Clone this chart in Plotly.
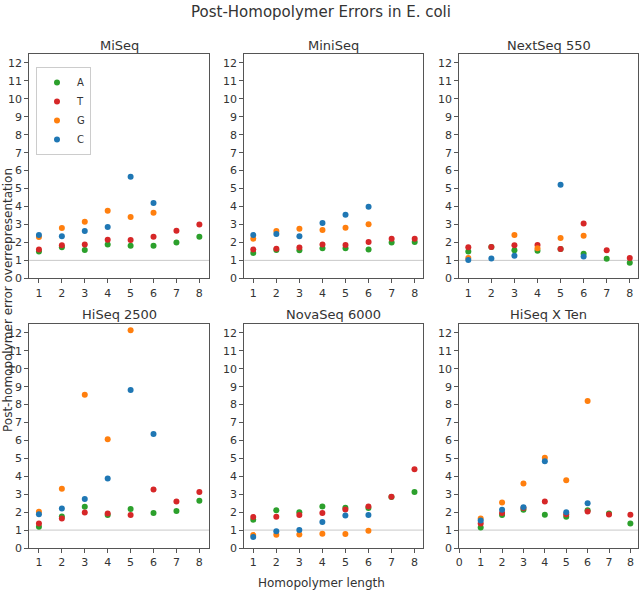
import plotly.graph_objects as go
from plotly.subplots import make_subplots

lengths = [1, 2, 3, 4, 5, 6, 7, 8]
platforms = ["MiSeq", "MiniSeq", "NextSeq 550", "HiSeq 2500", "NovaSeq 6000", "HiSeq X Ten"]
bases = ["A", "T", "G", "C"]
colors = {"A": "#2ca02c", "T": "#d62728", "G": "#ff7f0e", "C": "#1f77b4"}

# values per platform, per base (None = no point)
miseq_A = [1.50, 1.73, 1.58, 1.89, 1.82, 1.82, 2.00, 2.32]
miseq_T = [1.61, 1.84, 1.89, 2.15, 2.13, 2.32, 2.65, 3.00]
miseq_G = [2.30, 2.80, 3.15, 3.77, 3.41, 3.65, None, None]
miseq_C = [2.41, 2.34, 2.63, 2.86, 5.66, 4.19, None, None]

miniseq_A = [1.41, 1.58, 1.56, 1.67, 1.67, 1.61, 1.99, 2.02]
miniseq_T = [1.61, 1.65, 1.71, 1.89, 1.86, 2.02, 2.21, 2.21]
miniseq_G = [2.21, 2.63, 2.76, 2.69, 2.82, 3.01, None, None]
miniseq_C = [2.41, 2.47, 2.34, 3.08, 3.54, 3.99, None, None]

nextseq_A = [1.50, 1.74, 1.56, 1.54, 1.63, 1.37, 1.09, 0.87]
nextseq_T = [1.73, 1.74, 1.84, 1.86, 1.63, 3.06, 1.56, 1.13]
nextseq_G = [1.13, None, 2.41, 1.67, 2.24, 2.37, None, None]
nextseq_C = [1.02, 1.11, 1.26, None, 5.21, 1.21, None, None]

hiseq2500_A = [1.19, 1.76, 2.30, 1.84, 2.17, 1.95, 2.06, 2.63]
hiseq2500_T = [1.37, 1.65, 1.98, 1.93, 1.84, 3.26, 2.60, 3.12]
hiseq2500_G = [2.02, 3.30, 8.55, 6.07, 12.15, None, None, None]
hiseq2500_C = [1.89, 2.21, 2.73, 3.88, 8.81, 6.36, None, None]

novaseq_A = [1.58, 2.10, 1.99, 2.32, 2.24, 2.23, 2.85, 3.12]
novaseq_T = [1.73, 1.74, 1.84, 1.95, 2.15, 2.32, 2.86, 4.40]
novaseq_G = [0.72, 0.74, 0.76, 0.80, 0.78, 0.96, None, None]
novaseq_C = [0.61, 0.93, 1.00, 1.45, 1.82, 1.84, None, None]

hiseqx_A = [1.15, 1.84, 2.13, 1.86, 1.74, 2.11, 1.93, 1.37]
hiseqx_T = [1.37, 1.95, 2.23, 2.60, 1.89, 2.04, 1.87, 1.86]
hiseqx_G = [1.65, 2.54, 3.60, 5.03, 3.78, 8.20, None, None]
hiseqx_C = [1.54, 2.13, 2.28, 4.84, 1.99, 2.50, None, None]

data = [
    [miseq_A, miseq_T, miseq_G, miseq_C],
    [miniseq_A, miniseq_T, miniseq_G, miniseq_C],
    [nextseq_A, nextseq_T, nextseq_G, nextseq_C],
    [hiseq2500_A, hiseq2500_T, hiseq2500_G, hiseq2500_C],
    [novaseq_A, novaseq_T, novaseq_G, novaseq_C],
    [hiseqx_A, hiseqx_T, hiseqx_G, hiseqx_C],
]

font = "DejaVu Sans"
W, H = 642, 595
ml, mr, mt, mb = 29, 3, 54, 47
pw, ph = W - ml - mr, H - mt - mb


def px_x(x):
    return (x - ml) / pw


def px_y(y):
    return (H - mb - y) / ph


fig = make_subplots(rows=2, cols=3)

for i, plat in enumerate(platforms):
    r, c = i // 3 + 1, i % 3 + 1
    for b, vals in zip(bases, data[i]):
        xs = [x for x, v in zip(lengths, vals) if v is not None]
        ys = [v for v in vals if v is not None]
        fig.add_trace(go.Scatter(
            x=xs, y=ys, mode="markers", name=b,
            marker=dict(color=colors[b], size=6),
            showlegend=(i == 0), legendgroup=b,
        ), row=r, col=c)
    fig.add_hline(y=1, line=dict(color="#c8c8c8", width=1), row=r, col=c, layer="below")

xdom = [(px_x(29.3), px_x(209)), (px_x(244.3), px_x(423)), (px_x(459.3), px_x(638.3))]
ydom = [(px_y(278.3), px_y(54)), (px_y(548.3), px_y(324))]
xranges = [[0.58, 8.42], [0.61, 8.36], [0.61, 8.37], [0.58, 8.42], [0.61, 8.37], [0, 8.37]]

axis_style = dict(showline=True, mirror=True, linecolor="#555", linewidth=1,
                  ticks="outside", ticklen=4, tickcolor="#555", showgrid=False,
                  zeroline=False, automargin=False,
                  tickfont=dict(family=font, size=11, color="#333"))

for i in range(6):
    r, c = i // 3 + 1, i % 3 + 1
    fig.update_xaxes(domain=[max(0, xdom[c - 1][0]), min(1, xdom[c - 1][1])],
                     range=xranges[i], tickmode="linear",
                     tick0=0, dtick=1, row=r, col=c, **axis_style)
    fig.update_yaxes(domain=[max(0, ydom[r - 1][0]), min(1, ydom[r - 1][1])],
                     range=[0, 12.5], tickmode="linear", tick0=0, dtick=1,
                     row=r, col=c, **axis_style)

annotations = []
title_y = [45, 314]
for i, plat in enumerate(platforms):
    r, c = i // 3, i % 3
    annotations.append(dict(text=plat, xref="paper", yref="paper",
                            x=(xdom[c][0] + xdom[c][1]) / 2, y=px_y(title_y[r]),
                            showarrow=False, xanchor="center", yanchor="middle",
                            font=dict(family=font, size=13, color="#333")))
annotations.append(dict(text="Post-homopolymer error overrepresentation", xref="paper", yref="paper",
                        x=px_x(8), y=px_y(300), textangle=-90, showarrow=False,
                        xanchor="center", yanchor="middle",
                        font=dict(family=font, size=12, color="#333")))
annotations.append(dict(text="Homopolymer length", xref="paper", yref="paper",
                        x=px_x(321), y=px_y(583), showarrow=False,
                        xanchor="center", yanchor="middle",
                        font=dict(family=font, size=12, color="#333")))

fig.update_layout(
    width=W, height=H,
    margin=dict(l=ml, r=mr, t=mt, b=mb, autoexpand=False),
    plot_bgcolor="white", paper_bgcolor="white",
    title=dict(text="Post-Homopolymer Errors in E. coli", x=0.5, xanchor="center",
               y=1 - 12 / H, yanchor="middle", yref="container", automargin=False,
               font=dict(family=font, size=15, color="#333")),
    annotations=annotations,
    legend=dict(x=px_x(36), y=px_y(67), xanchor="left", yanchor="top",
                bgcolor="white", bordercolor="#ccc", borderwidth=1,
                font=dict(family=font, size=10, color="#333"),
                tracegroupgap=0, itemwidth=30),
)

# page body has a default 8px margin; drop it so the figure fills the window
fig.write_html("out.html", config={"displayModeBar": False},
               post_script="document.body.style.margin='0';")
